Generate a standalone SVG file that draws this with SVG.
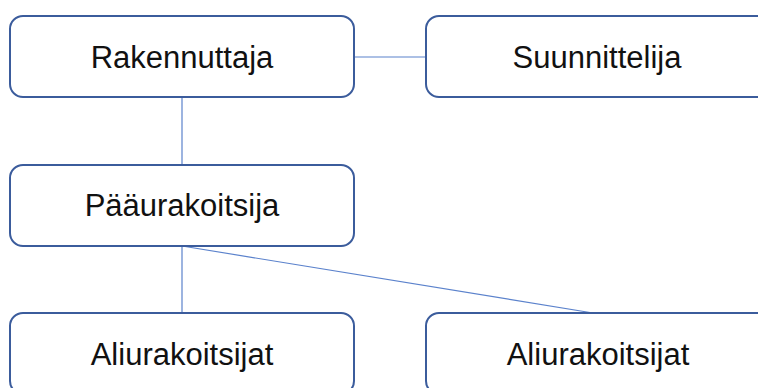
<svg xmlns="http://www.w3.org/2000/svg" width="758" height="388" viewBox="0 0 758 388">
<style>
.box{fill:#ffffff;stroke:#3b5c9c;stroke-width:2}
.lbl{font-family:"Liberation Sans",Arial,sans-serif;font-size:31px;fill:#111111;text-anchor:middle}
.con{stroke:#5b82cc;stroke-width:1.2;fill:none}
</style>
<rect width="758" height="388" fill="#ffffff"/>
<g id="connectors">
<line class="con" x1="354" y1="57" x2="426" y2="57"/>
<line class="con" x1="182" y1="97" x2="182" y2="165"/>
<line class="con" x1="182" y1="246" x2="182" y2="313"/>
<line class="con" x1="182" y1="246" x2="593" y2="313"/>
</g>
<g id="rakennuttaja">
<rect class="box" x="10" y="16" width="344" height="81" rx="13"/>
<text class="lbl" x="182" y="68">Rakennuttaja</text>
</g>
<g id="suunnittelija">
<rect class="box" x="426" y="16" width="344" height="81" rx="13"/>
<text class="lbl" x="597" y="68">Suunnittelija</text>
</g>
<g id="paaurakoitsija">
<rect class="box" x="10" y="165" width="344" height="81" rx="13"/>
<text class="lbl" x="182" y="216">Pääurakoitsija</text>
</g>
<g id="aliurakoitsijat1">
<rect class="box" x="10" y="313" width="344" height="81" rx="13"/>
<text class="lbl" x="182" y="365">Aliurakoitsijat</text>
</g>
<g id="aliurakoitsijat2">
<rect class="box" x="426" y="313" width="344" height="81" rx="13"/>
<text class="lbl" x="598" y="365">Aliurakoitsijat</text>
</g>
</svg>
